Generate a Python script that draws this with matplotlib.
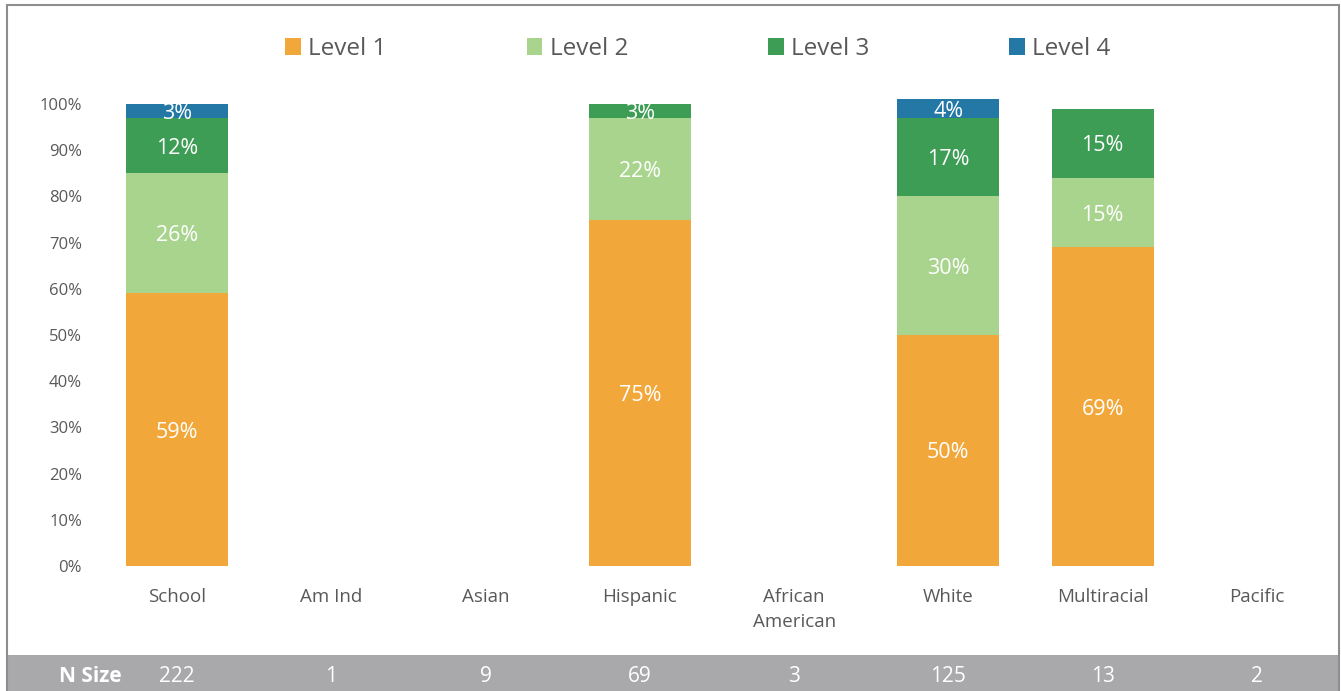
import matplotlib
matplotlib.use("Agg")
import matplotlib.pyplot as plt
from matplotlib.patches import Rectangle, Patch

plt.rcParams['font.family'] = ['Open Sans', 'DejaVu Sans']

categories = ["School", "Am Ind", "Asian", "Hispanic", "African\nAmerican",
              "White", "Multiracial", "Pacific"]
levels = ["Level 1", "Level 2", "Level 3", "Level 4"]
level1 = [59, None, None, 75, None, 50, 69, None]
level2 = [26, None, None, 22, None, 30, 15, None]
level3 = [12, None, None, 3, None, 17, 15, None]
level4 = [3, None, None, None, None, 4, None, None]
n_size = [222, 1, 9, 69, 3, 125, 13, 2]
colors = ["#F2A73A", "#A9D48E", "#3E9D55", "#2378A6"]

W, H = 1341, 691
ax_left, ax_width = 100 / W, 1234 / W
fig = plt.figure(figsize=(W / 100, H / 100), dpi=100)
ax = fig.add_axes([ax_left, 1 - 566 / H, ax_width, (566 - 104) / H])

x = list(range(len(categories)))
bottoms = [0.0] * len(categories)
for series, color in zip([level1, level2, level3, level4], colors):
    for i, v in enumerate(series):
        if v is None:
            continue
        ax.bar(i, v / 100, bottom=bottoms[i] / 100, width=0.66, color=color,
               edgecolor='none', clip_on=False, zorder=2)
        ax.text(i, (bottoms[i] + v / 2) / 100, f"{v}%", ha='center',
                va='center_baseline', color='white', fontsize=15.5, zorder=3)
        bottoms[i] += v

ax.set_xlim(-0.5, len(categories) - 0.5)
ax.set_ylim(0, 1.0)
ax.set_yticks([i / 10 for i in range(11)])
ax.set_yticklabels([f"{i * 10}%" for i in range(11)])
ax.set_xticks(x)
ax.set_xticklabels(categories, linespacing=1.45)
ax.tick_params(axis='y', length=0, pad=13, labelsize=12, labelcolor='#595959')
ax.tick_params(axis='x', length=0, pad=16, labelsize=13.5, labelcolor='#595959')
for s in ax.spines.values():
    s.set_visible(False)

# Legend across the top
handles = [Patch(facecolor=c, edgecolor='none') for c in colors]
fig.legend(handles, levels, loc='center', bbox_to_anchor=(698 / W, 1 - 49 / H),
           ncol=4, frameon=False, fontsize=17.5, handlelength=0.65, handleheight=0.65,
           handletextpad=0.3, columnspacing=5.75, labelcolor='#595959')

# N Size strip along the bottom
fig.patches.append(Rectangle((8 / W, 0), 1330 / W, 36 / H, transform=fig.transFigure,
                             facecolor='#A9A9AC', edgecolor='none', zorder=0))
fig.text(90 / W, 14 / H, "N Size", ha='center', va='center', color='white',
         fontsize=15, fontweight='bold', zorder=6)
for i, n in enumerate(n_size):
    xf = ax_left + ax_width * (i + 0.5) / len(categories)
    fig.text(xf, 14 / H, str(n), ha='center', va='center', color='white',
             fontsize=15, zorder=6)

# Outer frame
fig.patches.append(Rectangle((7 / W, -0.01), 1332 / W, 1 - 5 / H + 0.01,
                             transform=fig.transFigure, facecolor='none',
                             edgecolor='#8E8E8E', linewidth=1.5, zorder=5))

fig.savefig("out.png", dpi=100)
